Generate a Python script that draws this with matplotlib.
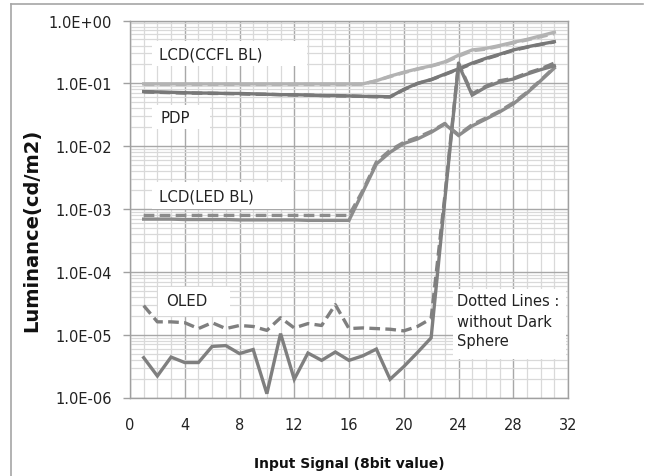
import matplotlib
matplotlib.use("Agg")
import matplotlib.pyplot as plt
import matplotlib.ticker as mticker
from matplotlib.patches import Rectangle
from matplotlib.lines import Line2D
import numpy as np

# ---------------- data ----------------
x = list(range(1, 32))

ccfl_solid = [0.098, 0.098, 0.098, 0.098, 0.098, 0.098, 0.098, 0.098, 0.098, 0.098,
              0.098, 0.098, 0.098, 0.098, 0.098, 0.098, 0.098, 0.11, 0.13, 0.15,
              0.17, 0.19, 0.22, 0.28, 0.34, 0.36, 0.40, 0.45, 0.50, 0.57, 0.65]
ccfl_dashed = [0.096, 0.096, 0.096, 0.096, 0.096, 0.096, 0.096, 0.096, 0.096, 0.096,
               0.096, 0.096, 0.096, 0.096, 0.096, 0.096, 0.097, 0.11, 0.128, 0.148,
               0.168, 0.188, 0.215, 0.27, 0.33, 0.35, 0.39, 0.44, 0.49, 0.55, 0.62]

pdp_solid = [0.074, 0.073, 0.072, 0.071, 0.070, 0.070, 0.069, 0.069, 0.068, 0.067,
             0.066, 0.066, 0.065, 0.064, 0.064, 0.063, 0.062, 0.062, 0.061, 0.080,
             0.100, 0.115, 0.140, 0.170, 0.210, 0.250, 0.290, 0.340, 0.380, 0.420, 0.460]
pdp_dashed = [0.073, 0.072, 0.071, 0.070, 0.070, 0.069, 0.069, 0.068, 0.067, 0.067,
              0.066, 0.065, 0.065, 0.064, 0.063, 0.063, 0.062, 0.061, 0.061, 0.079,
              0.099, 0.114, 0.138, 0.168, 0.205, 0.245, 0.285, 0.335, 0.375, 0.415, 0.455]

led_solid = [6.9e-4, 6.9e-4, 6.9e-4, 6.8e-4, 6.8e-4, 6.8e-4, 6.8e-4, 6.7e-4, 6.7e-4, 6.7e-4,
             6.7e-4, 6.7e-4, 6.6e-4, 6.6e-4, 6.6e-4, 6.6e-4, 1.85e-3, 5.2e-3, 8.0e-3, 0.011,
             0.013, 0.0166, 0.0225, 0.0148, 0.021, 0.027, 0.035, 0.047, 0.070, 0.110, 0.175]
led_dashed = [7.9e-4, 7.9e-4, 7.9e-4, 7.9e-4, 7.9e-4, 7.9e-4, 7.9e-4, 7.9e-4, 7.9e-4, 7.9e-4,
              7.9e-4, 7.9e-4, 7.9e-4, 7.9e-4, 7.9e-4, 7.9e-4, 1.95e-3, 5.6e-3, 8.6e-3, 0.0115,
              0.0138, 0.0172, 0.023, 0.0152, 0.022, 0.028, 0.036, 0.049, 0.072, 0.112, 0.18]

oled_solid = [4.3e-6, 2.2e-6, 4.4e-6, 3.6e-6, 3.6e-6, 6.5e-6, 6.7e-6, 5.0e-6, 5.8e-6, 1.15e-6,
              1.04e-5, 1.95e-6, 5.1e-6, 3.9e-6, 5.3e-6, 3.9e-6, 4.6e-6, 5.9e-6, 1.95e-6, 3.1e-6,
              5.2e-6, 8.9e-6, 1.4e-3, 0.20, 0.065, 0.087, 0.105, 0.117, 0.14, 0.165, 0.19]
oled_dashed = [2.9e-5, 1.6e-5, 1.6e-5, 1.55e-5, 1.25e-5, 1.55e-5, 1.25e-5, 1.4e-5, 1.35e-5, 1.17e-5,
               1.86e-5, 1.28e-5, 1.5e-5, 1.4e-5, 3.0e-5, 1.25e-5, 1.28e-5, 1.25e-5, 1.22e-5, 1.15e-5,
               1.35e-5, 1.8e-5, 1.6e-3, 0.21, 0.068, 0.09, 0.11, 0.12, 0.145, 0.17, 0.21]

x_ticks = [0, 4, 8, 12, 16, 20, 24, 28, 32]
y_ticks = [1e-6, 1e-5, 1e-4, 1e-3, 1e-2, 1e-1, 1e0]

labels = ["LCD(CCFL BL)", "PDP", "LCD(LED BL)", "OLED"]
note_lines = ["Dotted Lines :", "without Dark", "Sphere"]

# ---------------- figure ----------------
W, H = 645, 477
fig = plt.figure(figsize=(W / 100, H / 100), dpi=100)
L, R, T, B = 130, 568, 21.5, 398.5
ax = fig.add_axes([L / W, 1 - B / H, (R - L) / W, (B - T) / H])

# outer frame lines (figure border)
frame_c = "#a6a6a6"
fig.add_artist(Line2D([11 / W, 643 / W], [1 - 5 / H, 1 - 5 / H], color=frame_c, lw=1.2,
                      transform=fig.transFigure))
fig.add_artist(Line2D([11 / W, 11 / W], [1 - 5 / H, 0], color=frame_c, lw=1.2,
                      transform=fig.transFigure))

ax.set_yscale("log")
ax.set_xlim(0, 32)
ax.set_ylim(1e-6, 1e0)

ax.set_xticks(x_ticks)
ax.xaxis.set_minor_locator(mticker.MultipleLocator(1))
ax.yaxis.set_major_locator(mticker.FixedLocator(y_ticks))
ax.yaxis.set_minor_locator(mticker.LogLocator(base=10, subs=np.arange(2, 10), numticks=20))
ax.yaxis.set_major_formatter(mticker.FuncFormatter(lambda v, p: f"{v:.1E}"))
ax.yaxis.set_minor_formatter(mticker.NullFormatter())

ax.set_axisbelow(True)
ax.grid(which="major", color="#a8a8a8", lw=1.0)
ax.grid(which="minor", color="#d9d9d9", lw=0.9)

for s in ax.spines.values():
    s.set_color("#a0a0a0")
    s.set_linewidth(1.0)

tick_font = "DejaVu Sans"
ax.tick_params(axis="x", which="both", length=0, pad=14, labelsize=10.5, labelcolor="#222222")
ax.tick_params(axis="y", which="major", length=5, width=1, color="#a0a0a0", pad=8,
               labelsize=10.5, labelcolor="#222222")
ax.tick_params(axis="y", which="minor", length=0)
for lab in ax.get_xticklabels() + ax.get_yticklabels():
    lab.set_fontfamily(tick_font)

ax.set_xlabel("Input Signal (8bit value)", fontsize=10, fontweight="bold",
              family="DejaVu Sans", color="#111111")
ax.set_ylabel("Luminance(cd/m2)", fontsize=14, fontweight="bold",
              family="DejaVu Sans", color="#111111")
ax.yaxis.set_label_coords(-(130 - 41) / (R - L), 1 - (230 - T) / (B - T))
ax.xaxis.set_label_coords(0.5, -(457 - B) / (B - T))

# ---------------- series ----------------
lw = 2.4
dash = (0, (3.2, 1.6))
c_ccfl, c_pdp, c_led, c_oled = "#b3b3b3", "#787878", "#8c8c8c", "#7f7f7f"
series = [
    (ccfl_solid, ccfl_dashed, c_ccfl),
    (pdp_solid, pdp_dashed, c_pdp),
    (led_solid, led_dashed, c_led),
    (oled_solid, oled_dashed, c_oled),
]
for solid, dashed, col in series:
    ax.plot(x, solid, color=col, lw=lw, solid_joinstyle="miter", zorder=3)
for solid, dashed, col in series:
    ax.plot(x, dashed, color=col, lw=lw, linestyle=dash, zorder=4)

# ---------------- annotation boxes ----------------
def fx(px):
    return (px - L) / (R - L)

def fy(py):
    return 1 - (py - T) / (B - T)

def box(x0, y0, x1, y1):
    ax.add_patch(Rectangle((fx(x0), fy(y1)), fx(x1) - fx(x0), fy(y0) - fy(y1),
                           transform=ax.transAxes, facecolor="white", edgecolor="none",
                           zorder=2.5))

box_px = [(152, 42, 307, 67), (152, 106, 210, 130), (152, 183, 293, 210),
          (158, 288, 230, 317), (453, 290, 566, 360)]
for b in box_px:
    box(*b)

label_pos = [(159, 55), (160, 119), (159, 197), (166, 302)]
lab_font = "DejaVu Sans"
for txt, (px, py) in zip(labels, label_pos):
    ax.text(fx(px), fy(py), txt, transform=ax.transAxes, ha="left", va="center",
            fontsize=10.8, family=lab_font, color="#222222", zorder=5)

for txt, py in zip(note_lines, [301.5, 322.5, 342]):
    ax.text(fx(457), fy(py), txt, transform=ax.transAxes, ha="left", va="center",
            fontsize=10.5, family=lab_font, color="#222222", zorder=5)

fig.savefig("out.png", dpi=100)
